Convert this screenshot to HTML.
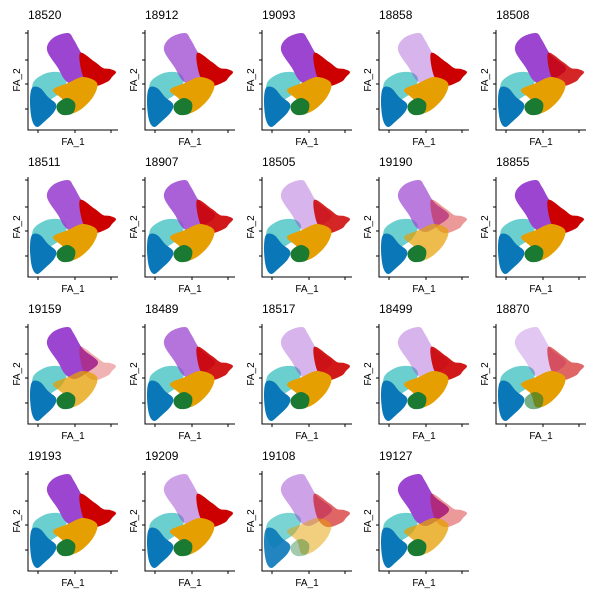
<!DOCTYPE html>
<html><head><meta charset="utf-8"><style>
body{margin:0;background:#fff;width:600px;height:600px;overflow:hidden}
svg text{font-family:"Liberation Sans",sans-serif}
</style></head><body>
<svg id="c" width="600" height="600"></svg>
<script>
const panelTitles=["18520","18912","19093","18858","18508","18511","18907","18505","19190","18855","19159","18489","18517","18499","18870","19193","19209","19108","19127"];
const clusterNames=["cyan","blue","purple","red","orange","green"];
const clusterColors=["#6ccfcf","#0a78b8","#9b45d0","#cc0000","#e69f00","#1a7a32"];
const cyanX=[5,14,24,34,39,33,22,12,5], cyanY=[47,55,58,57,50,38,30,23,33];
const blueX=[4,12,20,28,26,16,9,4,2], blueY=[42,42,33,26,18,8,3,10,28];
const purpleX=[19,25,40,46,55,70,60,47,37,30], purpleY=[80,92,97,90,75,62,52,45,50,62];
const redX=[52,67,75,82,88,84,79,65,55], redY=[77,68,62,61,58,53,48,44,54];
const orangeX=[40,55,69,65,52,40,35,25], orangeY=[47,53,47,33,20,17,30,40];
const greenX=[30,39,47,45,35,29], greenY=[27,32,27,17,15,20];
const shapesX=[cyanX,blueX,purpleX,redX,orangeX,greenX];
const shapesY=[cyanY,blueY,purpleY,redY,orangeY,greenY];
// per-panel density (opacity) per cluster: cyan, blue, purple, red, orange, green
const panelDensity=[
[1,1,1,1,1,1],[1,1,0.75,1,1,1],[1,1,1,1,1,1],[1,1,0.4,1,1,1],[1,1,1,0.85,1,1],
[1,1,0.9,1,1,1],[1,1,0.85,0.9,1,1],[1,1,0.4,0.85,1,1],[1,1,0.7,0.4,0.7,1],[1,1,1,1,1,1],
[1,1,1,0.3,0.75,1],[1,1,0.75,0.9,1,1],[1,1,0.4,0.9,1,1],[1,1,0.4,0.9,1,1],[1,1,0.3,0.6,1,0.6],
[1,1,1,1,1,1],[1,1,0.5,1,1,1],[0.9,0.9,0.5,0.6,0.5,0.4],[1,1,1,0.4,0.75,1]];
const svg=document.getElementById('c');
const NS='http://www.w3.org/2000/svg';
function mk(t,a){const e=document.createElementNS(NS,t);for(const k in a)e.setAttribute(k,a[k]);return e;}
function sx(v,ox){return ox+28+v;}
function sy(v,oy){return oy+130-v;}
function smooth(P){
  const n=P.length;let d=`M${P[0][0]},${P[0][1]}`;
  for(let i=0;i<n;i++){
    const p0=P[(i-1+n)%n],p1=P[i],p2=P[(i+1)%n],p3=P[(i+2)%n];
    const c1=[p1[0]+(p2[0]-p0[0])/6,p1[1]+(p2[1]-p0[1])/6];
    const c2=[p2[0]-(p3[0]-p1[0])/6,p2[1]-(p3[1]-p1[1])/6];
    d+=`C${c1[0].toFixed(1)},${c1[1].toFixed(1)} ${c2[0].toFixed(1)},${c2[1].toFixed(1)} ${p2[0]},${p2[1]}`;
  }
  return d+'Z';
}
panelTitles.forEach((t,i)=>{
  const ox=(i%5)*117, oy=Math.floor(i/5)*147;
  const g=mk('g',{});
  
  
  svg.appendChild(g);
  shapesX.forEach((xs,k)=>{
    const P=xs.map((x,j)=>[sx(x,ox),sy(shapesY[k][j],oy)]);
    const p=mk('path',{d:smooth(P),fill:clusterColors[k],opacity:panelDensity[i][k]});
    
    
    g.appendChild(p);
  });
  const ax=mk('path',{d:`M${ox+28},${oy+30}V${oy+130}H${ox+118}`,stroke:'#000','stroke-width':1,fill:'none'});
  
  
  g.appendChild(ax);
  [33,60,84,109].forEach(y=>g.appendChild(mk('line',{x1:ox+25,x2:ox+28,y1:oy+y,y2:oy+y,stroke:'#000'})));
  [38,75,111].forEach(x=>g.appendChild(mk('line',{x1:ox+x,x2:ox+x,y1:oy+130,y2:oy+133,stroke:'#000'})));
  const ti=mk('text',{x:ox+28,y:oy+19,'font-size':12});ti.textContent=t;
  
  
  g.appendChild(ti);
  const xl=mk('text',{x:ox+73,y:oy+145,'font-size':10,'text-anchor':'middle'});xl.textContent='FA_1';
  
  
  g.appendChild(xl);
  const yl=mk('text',{x:0,y:0,'font-size':10,'text-anchor':'middle',transform:`translate(${ox+20},${oy+80}) rotate(-90)`});yl.textContent='FA_2';
  
  
  g.appendChild(yl);
});
</script>
</body></html>
